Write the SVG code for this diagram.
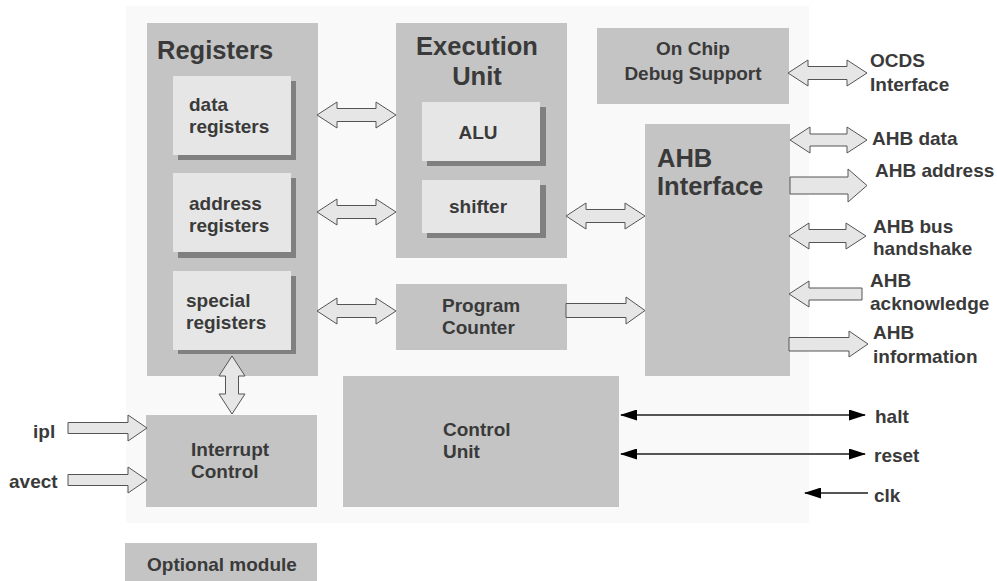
<svg xmlns="http://www.w3.org/2000/svg" width="997" height="581" viewBox="0 0 997 581">
<style>
.box{fill:#c4c4c4}
.sub{fill:#e6e6e6}
.sh{fill:#808080}
.ba{fill:#e6e6e6;stroke:#555;stroke-width:1}
.ln{stroke:#555;stroke-width:2;fill:none}
text{font-family:"Liberation Sans",Arial,sans-serif;font-weight:bold;fill:#3a3a3a}
.t1{font-size:25.5px}
.t2{font-size:19px}
.c{text-anchor:middle}
</style>
<defs>
<marker id="ah" viewBox="0 0 17 11" refX="16" refY="5.5" markerWidth="17" markerHeight="11" orient="auto-start-reverse" markerUnits="userSpaceOnUse"><path d="M0,0 L17,5.5 L0,11 Z" fill="#000"/></marker>
</defs>
<rect x="0" y="0" width="997" height="581" fill="#fff"/>
<rect id="panel" x="126" y="6" width="683" height="517" fill="#f9f9f9"/>

<g id="registers">
<rect class="box" x="147" y="23" width="171" height="353"/>
<text class="t1" x="157" y="59">Registers</text>
</g>
<g id="data-registers">
<rect class="sh" x="178" y="81" width="118" height="79"/>
<rect class="sub" x="173" y="76" width="118" height="79"/>
<text class="t2" x="189" y="111">data</text>
<text class="t2" x="189" y="133">registers</text>
</g>
<g id="address-registers">
<rect class="sh" x="178" y="178" width="118" height="80"/>
<rect class="sub" x="173" y="173" width="118" height="79"/>
<text class="t2" x="189" y="210">address</text>
<text class="t2" x="189" y="232">registers</text>
</g>
<g id="special-registers">
<rect class="sh" x="178" y="276" width="118" height="78"/>
<rect class="sub" x="173" y="271" width="118" height="79"/>
<text class="t2" x="186" y="307">special</text>
<text class="t2" x="186" y="329">registers</text>
</g>

<g id="execution-unit">
<rect class="box" x="396" y="23" width="171" height="235"/>
<text class="t1 c" x="477" y="55">Execution</text>
<text class="t1 c" x="477" y="85">Unit</text>
</g>
<g id="alu">
<rect class="sh" x="427" y="107" width="119" height="59"/>
<rect class="sub" x="422" y="102" width="118" height="59"/>
<text class="t2 c" x="478" y="139">ALU</text>
</g>
<g id="shifter">
<rect class="sh" x="427" y="185" width="119" height="53"/>
<rect class="sub" x="422" y="180" width="118" height="53"/>
<text class="t2 c" x="478" y="213">shifter</text>
</g>

<g id="ocds">
<rect class="box" x="597" y="28" width="192" height="76"/>
<text class="t2 c" x="693" y="55">On Chip</text>
<text class="t2 c" x="693" y="80">Debug Support</text>
</g>

<g id="ahb-interface">
<rect class="box" x="645" y="124" width="145" height="252"/>
<text class="t1" x="657" y="167">AHB</text>
<text class="t1" x="657" y="195">Interface</text>
</g>

<g id="program-counter">
<rect class="box" x="396" y="284" width="171" height="66"/>
<text class="t2" x="442" y="312">Program</text>
<text class="t2" x="442" y="334">Counter</text>
</g>

<g id="control-unit">
<rect class="box" x="343" y="376" width="276" height="131"/>
<text class="t2" x="443" y="436">Control</text>
<text class="t2" x="443" y="458">Unit</text>
</g>

<g id="interrupt-control">
<rect class="box" x="146" y="415" width="171" height="92"/>
<text class="t2" x="191" y="456">Interrupt</text>
<text class="t2" x="191" y="478">Control</text>
</g>

<g id="optional-module">
<rect class="box" x="125" y="543" width="192" height="38"/>
<text class="t2 c" x="222" y="571">Optional module</text>
</g>

<g id="connectors">
<!-- registers <-> execution -->
<path class="ba" d="M317,115 L337,102 L337,108.5 L376,108.5 L376,102 L396,115 L376,128 L376,121.5 L337,121.5 L337,128 Z"/>
<path class="ba" d="M317,212 L337,199 L337,205.5 L376,205.5 L376,199 L396,212 L376,225 L376,218.5 L337,218.5 L337,225 Z"/>
<path class="ba" d="M317,311 L337,298 L337,304.5 L376,304.5 L376,298 L396,311 L376,324 L376,317.5 L337,317.5 L337,324 Z"/>
<!-- execution <-> AHB -->
<path class="ba" d="M566,216 L586,203 L586,209.5 L625,209.5 L625,203 L645,216 L625,229 L625,222.5 L586,222.5 L586,229 Z"/>
<!-- PC -> AHB -->
<path class="ba" d="M566,303.5 L626,303.5 L626,297 L645,310.5 L626,324 L626,317.5 L566,317.5 Z"/>
<!-- registers <-> interrupt -->
<path class="ba" d="M232,356 L245,376 L238.5,376 L238.5,394 L245,394 L232,414 L219,394 L225.5,394 L225.5,376 L219,376 Z"/>
<!-- OCDS -->
<path class="ba" d="M788,73 L808,60 L808,66.5 L847,66.5 L847,60 L867,73 L847,86 L847,79.5 L808,79.5 L808,86 Z"/>
<!-- AHB data -->
<path class="ba" d="M790,140 L810,127 L810,134 L847,134 L847,127 L867,140 L847,153 L847,146 L810,146 L810,153 Z"/>
<!-- AHB address -->
<path class="ba" d="M790,177 L848,177 L848,169 L867,185.5 L848,202 L848,194 L790,194 Z"/>
<!-- AHB bus handshake -->
<path class="ba" d="M789,236 L809,223 L809,229.5 L846,229.5 L846,223 L866,236 L846,249 L846,242.5 L809,242.5 L809,249 Z"/>
<!-- AHB acknowledge -->
<path class="ba" d="M789,294 L809,281 L809,288 L862,288 L862,300 L809,300 L809,307 Z"/>
<!-- AHB information -->
<path class="ba" d="M789,337.5 L849,337.5 L849,331 L868,344 L849,357 L849,351 L789,351 Z"/>
<!-- ipl, avect -->
<path class="ba" d="M68,422.5 L128,422.5 L128,415 L147,428 L128,441 L128,433.5 L68,433.5 Z"/>
<path class="ba" d="M68,474.5 L128,474.5 L128,467 L147,480 L128,493 L128,485.5 L68,485.5 Z"/>
<!-- halt, reset, clk -->
<line class="ln" x1="621" y1="415" x2="865" y2="415" marker-start="url(#ah)" marker-end="url(#ah)"/>
<line class="ln" x1="621" y1="454" x2="865" y2="454" marker-start="url(#ah)" marker-end="url(#ah)"/>
<line class="ln" x1="868" y1="493" x2="805" y2="493" marker-end="url(#ah)"/>
</g>

<g id="labels">
<text class="t2" x="870" y="67">OCDS</text>
<text class="t2" x="870" y="91">Interface</text>
<text class="t2" x="872" y="145">AHB data</text>
<text class="t2" x="875" y="177">AHB address</text>
<text class="t2" x="873" y="233">AHB bus</text>
<text class="t2" x="873" y="255">handshake</text>
<text class="t2" x="870" y="287">AHB</text>
<text class="t2" x="870" y="310">acknowledge</text>
<text class="t2" x="873" y="339">AHB</text>
<text class="t2" x="873" y="363">information</text>
<text class="t2" x="875" y="423">halt</text>
<text class="t2" x="874" y="462">reset</text>
<text class="t2" x="874" y="502">clk</text>
<text class="t2" x="33" y="438">ipl</text>
<text class="t2" x="9" y="488">avect</text>
</g>
</svg>
